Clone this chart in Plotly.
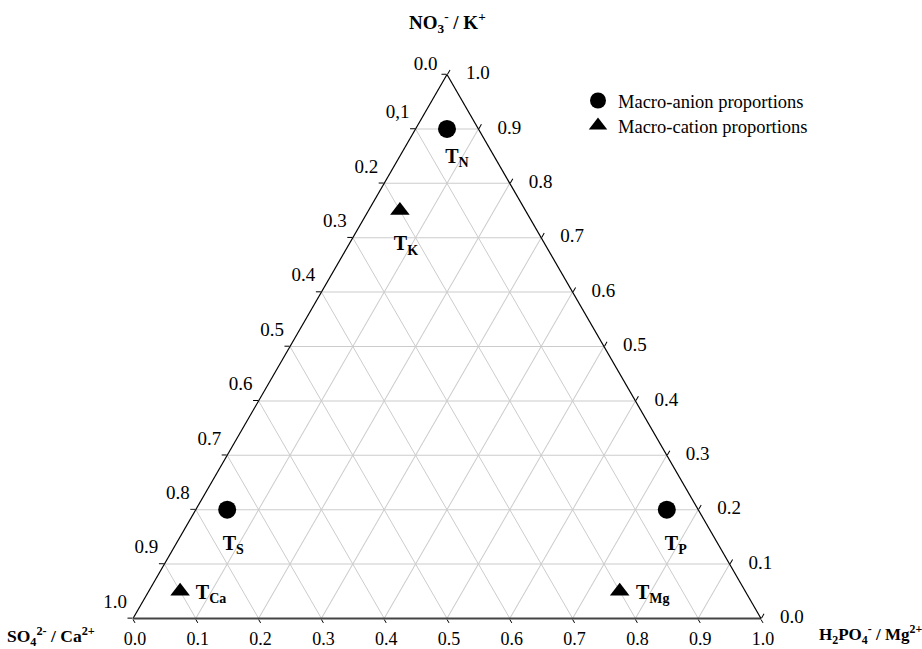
import plotly.graph_objects as go

# ---------------- data ----------------
tick_vals = [0.0, 0.1, 0.2, 0.3, 0.4, 0.5, 0.6, 0.7, 0.8, 0.9, 1.0]
left_tick_text = ["1.0", "0.9", "0.8", "0.7", "0.6", "0.5", "0.4", "0.3", "0.2", "0,1", "0.0"]
bottom_tick_text = ["1.0", "0.9", "0.8", "0.7", "0.6", "0.5", "0.4", "0.3", "0.2", "0.1", "0.0"]
right_tick_text = ["0.0", "0.1", "0.2", "0.3", "0.4", "0.5", "0.6", "0.7", "0.8", "0.9", "1.0"]

# a = NO3- / K+ (top), b = SO4 2- / Ca2+ (bottom-left), c = H2PO4- / Mg2+ (bottom-right)
anion_names = ["T<sub>N</sub>", "T<sub>S</sub>", "T<sub>P</sub>"]
anion_a = [0.90, 0.20, 0.20]
anion_b = [0.05, 0.75, 0.05]
anion_c = [0.05, 0.05, 0.75]

cation_names = ["T<sub>K</sub>", "T<sub>Ca</sub>", "T<sub>Mg</sub>"]
cation_a = [0.75, 0.05, 0.05]
cation_b = [0.20, 0.90, 0.20]
cation_c = [0.05, 0.05, 0.75]

# ---------------- layout geometry ----------------
W, H = 922, 649
ML, MR, MT, MB = 133, 161, 74, 30
PW = W - ML - MR          # triangle side in px
PH = H - MT - MB          # triangle height in px

SERIF = "Liberation Serif, Times New Roman, serif"
NB = "&nbsp;"

# label offsets (pixels: right, down) for the point labels
anion_off = [(10, 29), (6, 35), (9, 35)]
cation_off = [(6, 35), (31, 3), (33, 3)]
LEFT_LABEL_LIFT = 6 / PH   # move left-edge labels up along the edge


def shifted(a, b, c, offs):
    la, lb, lc = [], [], []
    for ai, bi, ci, (dx, dy) in zip(a, b, c, offs):
        da = dy / PH
        dc = dx / PW
        la.append(ai - da)
        lb.append(bi + da / 2 - dc)
        lc.append(ci + da / 2 + dc)
    return la, lb, lc


fig = go.Figure()

fig.add_trace(go.Scatterternary(
    a=anion_a, b=anion_b, c=anion_c, mode="markers",
    name="Macro-anion proportions", legend="legend",
    marker=dict(symbol="circle", size=18, color="black"),
    cliponaxis=False,
))
fig.add_trace(go.Scatterternary(
    a=cation_a, b=cation_b, c=cation_c, mode="markers",
    name="Macro-cation proportions", legend="legend2",
    marker=dict(symbol="triangle-up", size=17, color="black"),
    cliponaxis=False,
))

la, lb, lc = shifted(anion_a + cation_a, anion_b + cation_b, anion_c + cation_c,
                     anion_off + cation_off)
fig.add_trace(go.Scatterternary(
    a=la, b=lb, c=lc, mode="text",
    text=["<b>" + t + "</b>" for t in anion_names + cation_names],
    textposition="middle center",
    textfont=dict(family=SERIF, size=20, color="black"),
    showlegend=False, hoverinfo="skip", cliponaxis=False,
))

# left-edge tick labels (values of the horizontal lines, read from the top)
left_a = [min(v + LEFT_LABEL_LIFT, 1.0) for v in tick_vals]
fig.add_trace(go.Scatterternary(
    a=left_a,
    b=[1 - v for v in left_a],
    c=[0.0] * len(tick_vals),
    mode="text", text=[t + NB * 2 for t in left_tick_text], textposition="top left",
    textfont=dict(family=SERIF, size=19, color="black"),
    showlegend=False, hoverinfo="skip", cliponaxis=False,
))
# right-edge tick labels (heights of the horizontal lines)
fig.add_trace(go.Scatterternary(
    a=tick_vals, b=[0.0] * len(tick_vals), c=[1 - v for v in tick_vals],
    mode="text", text=[NB * 4 + t for t in right_tick_text], textposition="middle right",
    textfont=dict(family=SERIF, size=19, color="black"),
    showlegend=False, hoverinfo="skip", cliponaxis=False,
))


def axis(ticktext, showlabels=True, linecolor="black", linewidth=1.2, ticklen=5, fs=19):
    return dict(
        min=0, tickmode="array", tickvals=tick_vals, ticktext=ticktext,
        ticks="outside", ticklen=ticklen, tickcolor="black", tickwidth=1,
        showticklabels=showlabels,
        linecolor=linecolor, linewidth=linewidth,
        showgrid=True, gridcolor="#cccccc", gridwidth=1,
        tickfont=dict(family=SERIF, size=fs, color="black"),
        title=dict(text=""),
    )


def legend_at(top_px):
    return dict(
        x=(578 - ML) / PW, y=(MT + PH - top_px) / PH, xanchor="left", yanchor="top",
        font=dict(family=SERIF, size=18.5, color="black"),
        bgcolor="rgba(0,0,0,0)", itemwidth=30, tracegroupgap=0,
    )


fig.update_layout(
    width=W, height=H,
    margin=dict(l=ML, r=MR, t=MT, b=MB),
    paper_bgcolor="white",
    ternary=dict(
        domain=dict(x=[0, 1], y=[0, 1]),
        bgcolor="white",
        sum=1,
        aaxis=axis(left_tick_text, showlabels=False),
        baxis=axis(bottom_tick_text, linecolor="#444444", linewidth=2, ticklen=4, fs=18),
        caxis=axis(right_tick_text, showlabels=False),
    ),
    showlegend=True,
    legend=legend_at(82),
    legend2=legend_at(107),
    font=dict(family=SERIF, color="black"),
)


def px_to_paper(x, y):
    return (x - ML) / PW, (MT + PH - y) / PH


titles = [
    ("<b>NO<sub>3</sub><sup>-</sup> / K<sup>+</sup></b>", 447, 22, "center", 19),
    ("<b>SO<sub>4</sub><sup>2-</sup> / Ca<sup>2+</sup></b>", 97, 636, "right", 17.5),
    ("<b>H<sub>2</sub>PO<sub>4</sub><sup>-</sup> / Mg<sup>2+</sup></b>", 817, 634, "left", 17),
]
for txt, x, y, anc, fs in titles:
    px, py = px_to_paper(x, y)
    fig.add_annotation(text=txt, x=px, y=py, xref="paper", yref="paper",
                       xanchor=anc, yanchor="middle", showarrow=False,
                       font=dict(family=SERIF, size=fs, color="black"))

fig.write_html("out.html", config={"displayModeBar": False},
               post_script="document.body.style.margin='0';document.body.style.overflow='hidden';")
